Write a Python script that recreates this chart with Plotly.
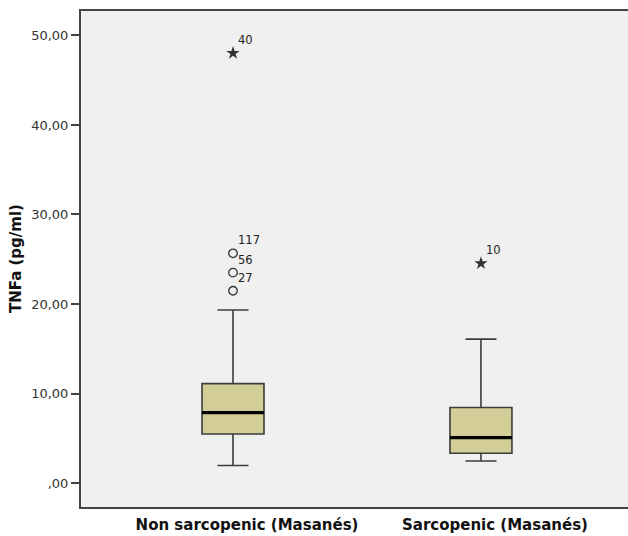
import plotly.graph_objects as go

# ---- data ----
categories = ["Non sarcopenic (Masanés)", "Sarcopenic (Masanés)"]
q1_vals = [5.48, 3.32]
median_vals = [7.87, 5.08]
q3_vals = [11.10, 8.43]
lower_whisker = [1.95, 2.46]
upper_whisker = [19.33, 16.07]

# outliers (circles) : group index, value, case label
mild_group = [0, 0, 0]
mild_values = [25.66, 23.50, 21.48]
mild_labels = ["117", "56", "27"]

# extreme outliers (stars)
extreme_group = [0, 1]
extreme_values = [48.03, 24.54]
extreme_labels = ["40", "10"]

y_tickvals = [0, 10, 20, 30, 40, 50]
y_ticktext = [",00", "10,00", "20,00", "30,00", "40,00", "50,00"]
y_title = "TNFa (pg/ml)"

# ---- style ----
xpos = list(range(len(categories)))
box_width = 0.25
box_fill = "#D3CE98"
line_col = "#3c3c3c"
font_family = "DejaVu Sans"

fig = go.Figure()

fig.add_trace(go.Box(
    x=xpos,
    q1=q1_vals, median=median_vals, q3=q3_vals,
    lowerfence=lower_whisker, upperfence=upper_whisker,
    width=box_width, whiskerwidth=0.5,
    fillcolor=box_fill,
    line=dict(color=line_col, width=1.6),
    boxpoints=False, hoverinfo="skip", showlegend=False,
))

# thicker median lines
for i, m in zip(xpos, median_vals):
    fig.add_trace(go.Scatter(
        x=[i - box_width / 2, i + box_width / 2], y=[m, m],
        mode="lines", line=dict(color="#000000", width=3.2),
        showlegend=False, hoverinfo="skip",
    ))

fig.add_trace(go.Scatter(
    x=mild_group, y=mild_values, mode="markers",
    marker=dict(symbol="circle-open", size=8.5, color="#333333", line=dict(width=1.3)),
    showlegend=False, hoverinfo="skip",
))
fig.add_trace(go.Scatter(
    x=extreme_group, y=extreme_values, mode="markers",
    marker=dict(symbol="star", size=10, color="#333333", line=dict(width=0)),
    showlegend=False, hoverinfo="skip",
))

annotations = []
for g, v, lab in list(zip(mild_group, mild_values, mild_labels)) + list(zip(extreme_group, extreme_values, extreme_labels)):
    annotations.append(dict(
        x=g, y=v, xref="x", yref="y", text=lab, showarrow=False,
        xanchor="left", yanchor="middle", xshift=3, yshift=13,
        font=dict(family=font_family, size=11.5, color="#222222"),
    ))

annotations.append(dict(
    x=0, y=0.5, xref="paper", yref="paper", text=y_title, showarrow=False,
    textangle=-90, xanchor="center", yanchor="middle", xshift=-65,
    font=dict(family=font_family, size=15, color="#111111", weight="bold"),
))

fig.update_layout(
    width=628, height=536,
    margin=dict(l=81, r=0, t=11, b=29, pad=0),
    paper_bgcolor="white",
    plot_bgcolor="#F0F0F0",
    annotations=annotations,
    showlegend=False,
)

fig.update_xaxes(
    range=[-0.613, 1.593],
    tickvals=xpos, ticktext=categories,
    ticks="", showgrid=False, zeroline=False,
    showline=True, linecolor="#444444", linewidth=2, mirror=True,
    tickfont=dict(family=font_family, size=15, color="#111111", weight="bold"),
    ticklabelshift=14, ticklabelstandoff=3,
)
fig.update_yaxes(
    range=[-2.68, 52.73],
    tickvals=y_tickvals, ticktext=y_ticktext,
    ticks="outside", ticklen=8, tickwidth=1.5, tickcolor="#444444",
    showgrid=False, zeroline=False,
    showline=True, linecolor="#444444", linewidth=2,
    tickfont=dict(family=font_family, size=13, color="#333333"),
)

# remove the default 8px page margin so the 628x536 figure fills the window exactly
fig.write_html(
    "out.html",
    config={"displayModeBar": False},
    post_script="document.body.style.margin='0';document.body.style.overflow='hidden';",
)
